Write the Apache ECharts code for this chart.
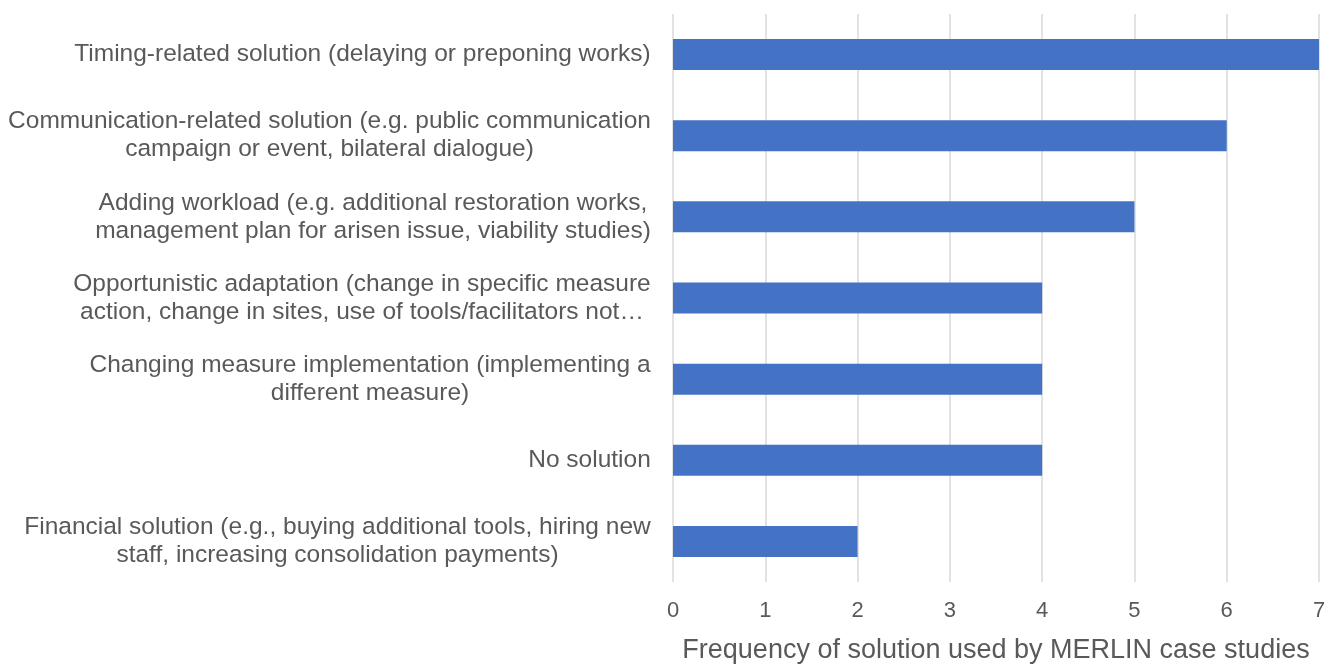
<!DOCTYPE html>
<html>
<head>
<meta charset="utf-8">
<script src="https://cdn.jsdelivr.net/npm/echarts@6/dist/echarts.min.js"></script>
<style>
html,body{margin:0;padding:0;background:#fff;}
#main{width:1324px;height:664px;}
</style>
</head>
<body>
<div id="main"></div>
<script>
var categories = [
	'Timing-related solution (delaying or preponing works)',
	'Communication-related solution (e.g. public communication\ncampaign or event, bilateral dialogue)',
	'Adding workload (e.g. additional restoration works,\nmanagement plan for arisen issue, viability studies)',
	'Opportunistic adaptation (change in specific measure\naction, change in sites, use of tools/facilitators not\u2026',
	'Changing measure implementation (implementing a\ndifferent measure)',
	'No solution',
	'Financial solution (e.g., buying additional tools, hiring new\nstaff, increasing consolidation payments)'
];
var counts = [7, 6, 5, 4, 4, 4, 2];
var xTicks = [0, 1, 2, 3, 4, 5, 6, 7];

var labelSize = 24.5;
var textColor = '#595959';

// measure each label so multi-line text can be centered in its own block
var ctx = document.createElement('canvas').getContext('2d');
ctx.font = labelSize + 'px "Liberation Sans"';
var rich = {};
categories.forEach(function(c, i){
	var w = 0;
	c.split('\n').forEach(function(l){ w = Math.max(w, ctx.measureText(l).width); });
	rich['c' + i] = {width: Math.ceil(w), align: 'center', fontSize: labelSize, lineHeight: 28,
		fontFamily: 'Liberation Sans', color: textColor};
});

var myChart = echarts.init(document.getElementById('main'));
var option = {
	animation: false,
	grid: {left: 673, right: 5, top: 14, bottom: 82, outerBoundsMode: 'none', containLabel: false},
	xAxis: {
		type: 'value',
		min: 0, max: 7, interval: 1,
		axisLine: {show: false},
		axisTick: {show: false},
		splitLine: {lineStyle: {color: '#d9d9d9', width: 1.5}},
		axisLabel: {color: textColor, fontSize: 22, fontFamily: 'Liberation Sans', margin: 18,
			formatter: function(v){ return xTicks.indexOf(v) >= 0 ? String(v) : ''; }},
		name: 'Frequency of solution used by MERLIN case studies',
		nameLocation: 'middle',
		nameGap: 55,
		nameTextStyle: {color: textColor, fontSize: 27, fontFamily: 'Liberation Sans'}
	},
	yAxis: {
		type: 'category',
		inverse: true,
		data: categories,
		axisLine: {show: false},
		axisTick: {show: false},
		axisLabel: {
			margin: 22,
			align: 'right',
			interval: 0,
			formatter: function(v, i){
				return v.split('\n').map(function(l){ return '{c' + i + '|' + l + '}'; }).join('\n');
			},
			rich: rich
		}
	},
	series: [{
		type: 'bar',
		data: counts,
		barWidth: 31,
		itemStyle: {color: '#4472C4'}
	}]
};
myChart.setOption(option);
</script>
</body>
</html>
